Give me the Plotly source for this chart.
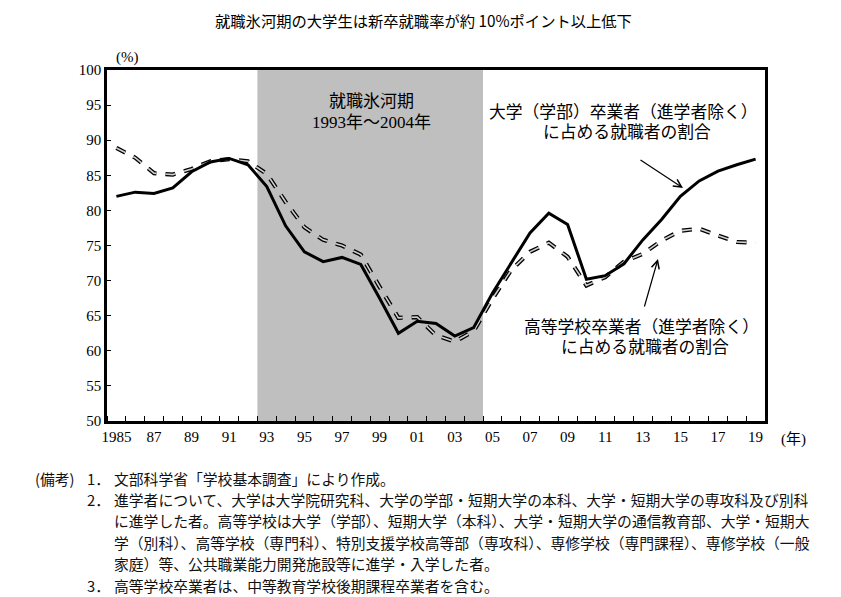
import plotly.graph_objects as go

# data
years = list(range(1985, 2020))
univ = [82.0, 82.6, 82.4, 83.2, 85.5, 86.9, 87.4, 86.5, 83.4, 77.8,
        74.1, 72.7, 73.3, 72.3, 67.5, 62.5, 64.2, 63.9, 62.1, 63.3,
        68.2, 72.5, 76.8, 79.6, 78.0, 70.2, 70.7, 72.4, 75.8, 78.7,
        82.0, 84.2, 85.6, 86.5, 87.3]
high = [88.9, 87.5, 85.3, 85.1, 85.9, 87.0, 87.3, 87.0, 85.2, 81.2,
        77.6, 75.8, 75.0, 73.7, 69.1, 64.7, 64.8, 62.2, 61.3, 62.8,
        67.4, 71.5, 74.1, 75.4, 73.4, 69.3, 70.5, 72.7, 73.8, 75.7,
        77.1, 77.4, 76.4, 75.5, 75.4]
tick_years = list(range(1985, 2020, 2))
tick_text = ["1985"] + ["%02d" % (y % 100) for y in tick_years[1:]]
ice_age = (1993, 2004)

title = "就職氷河期の大学生は新卒就職率が約 10%ポイント以上低下"
univ_label = ["大学（学部）卒業者（進学者除く）", "に占める就職者の割合"]
high_label = ["高等学校卒業者（進学者除く）", "に占める就職者の割合"]
band_label = ["就職氷河期", "1993年～2004年"]
note_nums = ["1．", "2．", "", "", "", "3．"]
note_lines = [
    "文部科学省「学校基本調査」により作成。",
    "進学者について、大学は大学院研究科、大学の学部・短期大学の本科、大学・短期大学の専攻科及び別科",
    "に進学した者。高等学校は大学（学部）、短期大学（本科）、大学・短期大学の通信教育部、大学・短期大",
    "学（別科）、高等学校（専門科）、特別支援学校高等部（専攻科）、専修学校（専門課程）、専修学校（一般",
    "家庭）等、公共職業能力開発施設等に進学・入学した者。",
    "高等学校卒業者は、中等教育学校後期課程卒業者を含む。",
]

W, H = 841, 597
L, R, T, B = 107, 765, 70, 421
SERIF = "Liberation Serif, Noto Sans CJK JP"
SANS = "Noto Sans CJK JP"


def px(x):
    return (x - L) / (R - L)


def py(y):
    return (B - y) / (B - T)


fig = go.Figure()

fig.add_shape(type="rect", xref="x", yref="y", x0=ice_age[0] - 0.5, x1=ice_age[1] + 0.5,
              y0=50, y1=100, fillcolor="#bfbfbf", line_width=0, layer="below")

# dashed line: black outline with light core
fig.add_trace(go.Scatter(x=years, y=high, mode="lines",
                         line=dict(color="black", width=4.2, dash="10px,9px")))
fig.add_trace(go.Scatter(x=years, y=high, mode="lines",
                         line=dict(color="#cfcfcf", width=1.6, dash="10px,9px")))
fig.add_trace(go.Scatter(x=years, y=univ, mode="lines",
                         line=dict(color="black", width=3)))

ann = []
ann.append(dict(text=title, x=px(423), y=py(20), font=dict(family=SANS, size=15.3, color="black")))
ann.append(dict(text="(%)", x=px(127), y=py(57), font=dict(family=SERIF, size=15, color="black")))
ann.append(dict(text="(年)", x=px(793), y=py(439), font=dict(family=SERIF, size=15, color="black")))
for i, t in enumerate(band_label):
    ann.append(dict(text=t, x=px(371), y=py(101 + 21 * i), font=dict(family=SERIF, size=17, color="black")))
for i, t in enumerate(univ_label):
    ann.append(dict(text=t, x=px(623 + 4 * i), y=py(112 + 20 * i), font=dict(family=SERIF, size=16.8, color="black")))
for i, t in enumerate(high_label):
    ann.append(dict(text=t, x=px(641 + 4 * i), y=py(327 + 20 * i), font=dict(family=SERIF, size=16.8, color="black")))
for a in ann:
    a.update(xref="paper", yref="paper", showarrow=False, xanchor="center", yanchor="middle")

# arrows
ann.append(dict(x=px(683), y=py(188), ax=-44, ay=-29, xref="paper", yref="paper", text="",
                showarrow=True, arrowhead=5, arrowsize=1.3, arrowwidth=1.2, arrowcolor="black"))
ann.append(dict(x=px(658), y=py(259), ax=-14, ay=49, xref="paper", yref="paper", text="",
                showarrow=True, arrowhead=5, arrowsize=1.3, arrowwidth=1.2, arrowcolor="black"))

# notes
nf = dict(family=SANS, size=14.8, color="#111111")
ann.append(dict(text="(備考)", x=px(33), y=py(478), xref="paper", yref="paper", showarrow=False,
                xanchor="left", yanchor="middle", font=nf))
for i, (n, t) in enumerate(zip(note_nums, note_lines)):
    yy = py(478 + 21.4 * i)
    if n:
        ann.append(dict(text=n, x=px(85), y=yy, xref="paper", yref="paper", showarrow=False,
                        xanchor="left", yanchor="middle", font=nf))
    ann.append(dict(text=t, x=px(112), y=yy, xref="paper", yref="paper", showarrow=False,
                    xanchor="left", yanchor="middle", font=nf))

fig.update_layout(
    width=W, height=H,
    margin=dict(l=L, r=W - R, t=T, b=H - B),
    paper_bgcolor="white", plot_bgcolor="white",
    showlegend=False,
    annotations=ann,
    xaxis=dict(range=[1984.5, 2019.5], tickvals=tick_years, ticktext=tick_text, ticks="",
               minor=dict(tick0=1984.5, dtick=1, ticks="inside", ticklen=5, tickwidth=1.2, tickcolor="black"),
               showgrid=False, zeroline=False, showline=True, linewidth=2.5, linecolor="black", mirror=True,
               tickfont=dict(family=SERIF, size=15, color="black")),
    yaxis=dict(range=[50, 100], dtick=5, ticks="inside", ticklen=4, tickwidth=1.2, tickcolor="black",
               showgrid=False, zeroline=False, showline=True, linewidth=2.5, linecolor="black", mirror=True,
               tickfont=dict(family=SERIF, size=15, color="black")),
)

# page body has a default margin; drop it so the figure sits at the top-left corner
fig.write_html("out.html", config={"displayModeBar": False},
               post_script="document.body.style.margin='0px';")
